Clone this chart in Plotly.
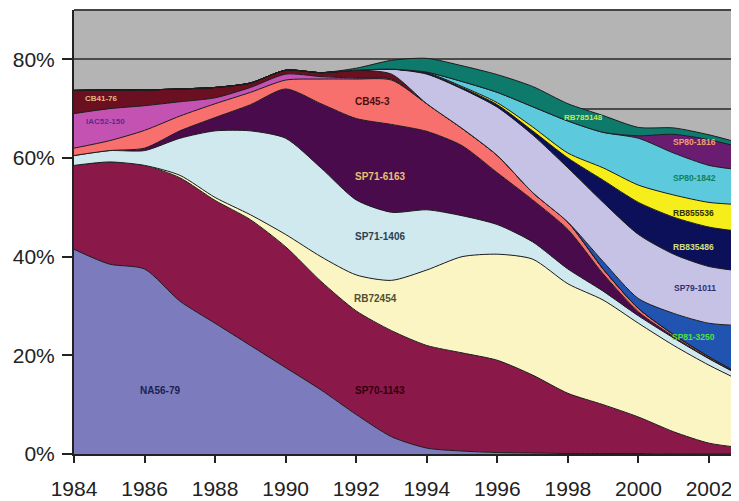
import plotly.graph_objects as go

years = list(range(1984, 2004))

# share of planted area (%) by variety, bottom of the stack first
na56_79 = [41.5, 38.5, 37.5, 31.0, 26.5, 22.0, 17.5, 13.0, 8.0, 3.5, 1.2, 0.6, 0.3, 0.2, 0.1, 0.1, 0.1, 0, 0, 0]
sp70_1143 = [17.0, 20.7, 21.0, 25.0, 24.9, 25.5, 24.5, 22.0, 21.0, 21.5, 20.8, 19.9, 18.7, 15.8, 12.2, 9.9, 7.4, 4.5, 2.2, 1.2]
rb72454 = [0, 0, 0, 0.5, 0.6, 1.0, 2.5, 5.0, 7.3, 10.2, 15.3, 19.5, 21.5, 23.5, 22.2, 21.2, 19.0, 17.5, 15.8, 13.3]
sp71_1406 = [2.0, 2.3, 3.0, 7.5, 13.5, 17.0, 19.5, 18.0, 15.2, 13.8, 12.2, 8.3, 6.0, 3.5, 3.0, 1.8, 1.5, 1.5, 1.3, 1.0]
sp71_6163 = [0, 0, 0.5, 1.5, 2.7, 5.3, 10.0, 13.0, 16.5, 17.8, 15.9, 14.2, 10.5, 8.5, 8.0, 3.5, 0.8, 0.3, 0.1, 0]
cb45_3 = [1.5, 2.0, 3.6, 3.0, 2.8, 2.5, 1.8, 5.0, 8.0, 9.0, 5.6, 3.5, 3.5, 1.5, 1.5, 1.0, 0.7, 0.4, 0.3, 0.2]
iac52_150 = [7.0, 6.5, 5.0, 2.9, 1.2, 1.0, 1.2, 0.5, 0.2, 0.2, 0, 0, 0, 0, 0, 0, 0, 0, 0, 0]
cb41_76 = [4.7, 3.8, 3.2, 2.6, 2.1, 0.9, 0.8, 0.8, 1.6, 1.0, 0, 0, 0, 0, 0, 0, 0, 0, 0, 0]
sp81_3250 = [0, 0, 0, 0, 0, 0, 0, 0, 0, 0, 0, 0, 0, 0, 0, 1.5, 2.0, 4.3, 6.8, 10.3]
sp79_1011 = [0, 0, 0, 0, 0, 0, 0, 0, 0, 1.0, 6.0, 8.0, 9.8, 11.7, 11.0, 12.0, 13.0, 12.0, 11.5, 11.0]
rb835486 = [0, 0, 0, 0, 0, 0, 0, 0, 0, 0, 0.3, 0.3, 0.5, 0.8, 2.0, 4.5, 6.5, 7.5, 8.0, 8.0]
rb855536 = [0, 0, 0, 0, 0, 0, 0, 0, 0, 0, 0, 0.2, 0.4, 0.8, 1.0, 2.5, 3.5, 4.5, 5.0, 5.5]
sp80_1842 = [0, 0, 0, 0, 0, 0, 0, 0, 0, 0, 0.1, 1.0, 2.1, 4.1, 6.5, 7.2, 9.5, 8.5, 7.5, 7.0]
sp80_1816 = [0, 0, 0, 0, 0, 0, 0, 0, 0, 0, 0, 0, 0, 0, 0, 0, 0.5, 3.8, 5.2, 4.5]
rb785148 = [0, 0, 0, 0, 0, 0, 0, 0, 0.4, 1.8, 2.8, 3.2, 3.6, 4.1, 3.5, 3.4, 1.7, 1.3, 1.0, 0.8]

y_ticks = [0, 20, 40, 60, 80]
y_tick_text = ["0%", "20%", "40%", "60%", "80%"]
x_ticks = list(range(1984, 2003, 2))
x_tick_text = [str(y) for y in x_ticks]

series = [
    ("NA56-79", na56_79, "#7b7bbd"),
    ("SP70-1143", sp70_1143, "#8a1848"),
    ("RB72454", rb72454, "#fbf5c4"),
    ("SP71-1406", sp71_1406, "#cfe9ef"),
    ("SP71-6163", sp71_6163, "#4a0b4c"),
    ("CB45-3", cb45_3, "#f7706e"),
    ("IAC52-150", iac52_150, "#c452b2"),
    ("CB41-76", cb41_76, "#6b1020"),
    ("SP81-3250", sp81_3250, "#2054b0"),
    ("SP79-1011", sp79_1011, "#c6c2e6"),
    ("RB835486", rb835486, "#0b1058"),
    ("RB855536", rb855536, "#f6ee1a"),
    ("SP80-1842", sp80_1842, "#5ccadc"),
    ("SP80-1816", sp80_1816, "#6a1c70"),
    ("RB785148", rb785148, "#0d7a6c"),
]

# in-chart labels: (text, year, percent, colour, font size)
labels = [
    ("CB41-76", 1984.77, 72.0, "#e8b884", 8),
    ("IAC52-150", 1984.9, 67.5, "#5a2a90", 8),
    ("CB45-3", 1992.45, 71.4, "#4a1010", 10),
    ("SP71-6163", 1992.67, 56.2, "#e8c070", 10),
    ("SP71-1406", 1992.67, 44.0, "#2a4050", 10),
    ("RB72454", 1992.56, 31.5, "#505030", 10),
    ("NA56-79", 1986.44, 12.8, "#202050", 10),
    ("SP70-1143", 1992.67, 12.8, "#300010", 10),
    ("RB785148", 1998.43, 68.3, "#c8e850", 8),
    ("SP80-1816", 2001.6, 63.2, "#f0a070", 8.5),
    ("SP80-1842", 2001.6, 56.0, "#108060", 8.5),
    ("RB855536", 2001.57, 48.9, "#303000", 8.5),
    ("RB835486", 2001.57, 42.0, "#d0e080", 8.5),
    ("SP79-1011", 2001.6, 33.7, "#303070", 8.5),
    ("SP81-3250", 2001.55, 23.7, "#50e040", 8.5),
]

fig = go.Figure()
for name, vals, color in series:
    fig.add_trace(go.Scatter(
        x=years, y=vals, name=name, stackgroup="one",
        mode="lines", fillcolor=color,
        line=dict(width=1, color="#1c1c1c", shape="spline", smoothing=0.7),
    ))

for text, x, y, color, size in labels:
    fig.add_annotation(x=x, y=y, text=f"<b>{text}</b>", showarrow=False,
                       font=dict(size=size, color=color, family="Liberation Sans"))

fig.add_shape(type="line", xref="paper", yref="paper", x0=0, x1=1, y0=1, y1=1,
              line=dict(color="#444444", width=2))

# the page body adds an 8px offset, so the figure is sized to fill the rest
fig.update_layout(
    width=731, height=493,
    margin=dict(l=66, r=0, t=2, b=47),
    paper_bgcolor="white", plot_bgcolor="#b4b4b4",
    showlegend=False,
    font=dict(family="Liberation Sans", size=21, color="#222222"),
    xaxis=dict(
        range=[1984, 2002.85], tickvals=x_ticks, ticktext=x_tick_text,
        ticks="outside", ticklen=7, tickcolor="#222", tickwidth=1.5,
        showline=True, linecolor="#222", linewidth=2,
        showgrid=False, zeroline=False, ticklabelstandoff=8,
        automargin=False,
    ),
    yaxis=dict(
        range=[0, 90], tickvals=y_ticks, ticktext=y_tick_text,
        ticks="outside", ticklen=10, tickcolor="#222", tickwidth=1.5,
        showline=True, linecolor="#222", linewidth=2,
        showgrid=True, gridcolor="#4a4a4a", gridwidth=1.5, zeroline=False,
        minor=dict(dtick=10, showgrid=True, gridcolor="#4a4a4a", gridwidth=1.5, ticks=""),
        ticklabelstandoff=3, automargin=False,
    ),
)

fig.write_html("out.html")
